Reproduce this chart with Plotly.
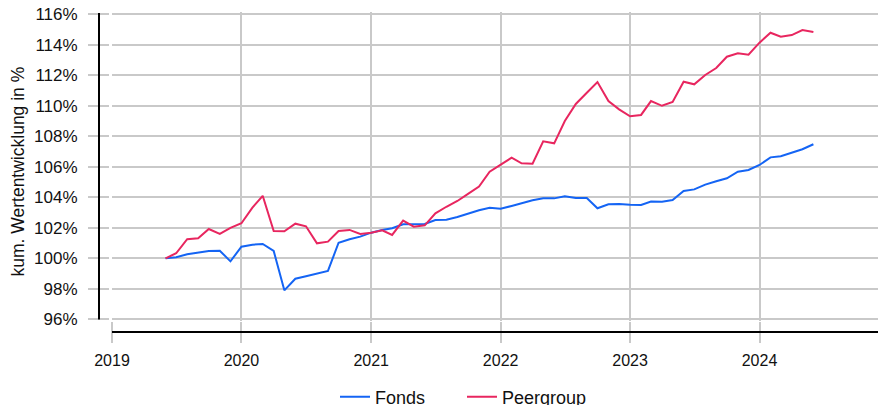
import pandas as pd
import plotly.graph_objects as go

# page has an 8px body margin: figure occupies screen (8..886, 8..405)
OFF = 8
W, H = 886 - OFF, 405 - OFF

dates = pd.date_range("2019-06-01", "2024-06-01", freq="MS")

fonds = [100.0, 100.07, 100.26, 100.37, 100.48, 100.5, 99.8, 100.76, 100.89, 100.94,
         100.48, 97.9, 98.66, 98.82, 98.99, 99.17, 101.02, 101.25, 101.42, 101.68,
         101.86, 101.97, 102.23, 102.25, 102.25, 102.51, 102.53, 102.71, 102.95, 103.15,
         103.32, 103.25, 103.43, 103.61, 103.8, 103.93, 103.93, 104.07, 103.95, 103.95,
         103.28, 103.54, 103.56, 103.51, 103.5, 103.72, 103.71, 103.82, 104.41, 104.52,
         104.83, 105.05, 105.25, 105.68, 105.79, 106.12, 106.62, 106.69, 106.92, 107.15,
         107.48]

peergroup = [100.0, 100.33, 101.25, 101.31, 101.92, 101.6, 102.0, 102.3, 103.32, 104.1,
             101.79, 101.77, 102.27, 102.1, 100.98, 101.09, 101.79, 101.86, 101.6, 101.68,
             101.83, 101.53, 102.47, 102.07, 102.16, 102.95, 103.38, 103.76, 104.22, 104.7,
             105.68, 106.16, 106.6, 106.23, 106.2, 107.67, 107.54, 109.0, 110.12, 110.86,
             111.56, 110.31, 109.77, 109.31, 109.4, 110.31, 110.0, 110.25, 111.58, 111.41,
             112.02, 112.48, 113.22, 113.44, 113.35, 114.14, 114.79, 114.53, 114.64, 114.97,
             114.84]

year_ticks = ["2019-01-01", "2020-01-01", "2021-01-01", "2022-01-01", "2023-01-01", "2024-01-01"]
year_labels = ["2019", "2020", "2021", "2022", "2023", "2024"]
y_ticks = list(range(96, 117, 2))

series_names = ["Fonds", "Peergroup"]
series_colors = ["#1464F4", "#E8265F"]

GRID = "#C9C9C9"
FONT = "Liberation Sans, Arial, sans-serif"


def sx(px):
    return (px - OFF) / W


def sy(py):
    return (H - (py - OFF)) / H


# geometry (screen pixels of the reference)
x_left_px = 112.0
px_per_day = 647.5 / 1826.0
x_start = pd.Timestamp("2019-01-01")
x_end = x_start + pd.Timedelta(days=(886 - x_left_px) / px_per_day)
x_dom = [sx(x_left_px), 1.0]
pad = 0.12  # small range padding so the edge grid lines (96%, 116%) are kept
px_per_pct = 305.0 / 20.0
y_dom = [sy(319.3 + pad * px_per_pct), sy(14.3 - pad * px_per_pct)]

fig = go.Figure()
for name, vals, col in zip(series_names, [fonds, peergroup], series_colors):
    fig.add_trace(go.Scatter(x=dates, y=vals, mode="lines", name=name,
                             line=dict(color=col, width=2)))
# empty trace so that the label axis is drawn
fig.add_trace(go.Scatter(x=[], y=[], xaxis="x2", showlegend=False, hoverinfo="skip"))

fig.update_layout(
    width=W, height=H,
    margin=dict(l=0, r=0, t=0, b=0, autoexpand=False),
    plot_bgcolor="white", paper_bgcolor="white",
    font=dict(family=FONT, size=16, color="#111111"),
    showlegend=True,
    legend=dict(orientation="h", x=sx(335), xanchor="left", y=sy(397), yanchor="middle",
                font=dict(size=18), bgcolor="rgba(0,0,0,0)",
                entrywidth=82, entrywidthmode="pixels"),
    xaxis=dict(domain=x_dom, range=[x_start, x_end], type="date",
               tickvals=year_ticks[1:], showticklabels=False, ticks="",
               showgrid=True, gridcolor=GRID, gridwidth=2, zeroline=False, showline=False,
               anchor="y"),
    xaxis2=dict(domain=x_dom, range=[x_start, x_end], type="date", overlaying="x",
                anchor="free", position=sy(321),
                tickvals=year_ticks, ticktext=year_labels, ticks="outside", ticklen=21,
                tickwidth=2, tickcolor=GRID, showgrid=False, zeroline=False, showline=False,
                tickfont=dict(size=16, family=FONT), ticklabelstandoff=4,
                ticklabeloverflow="allow"),
    yaxis=dict(domain=y_dom, range=[96 - pad, 116 + pad], tickvals=y_ticks,
               ticktext=[f"{v}%" for v in y_ticks],
               anchor="free", position=sx(109),
               ticks="outside", ticklen=21, tickwidth=2, tickcolor=GRID,
               showgrid=True, gridcolor=GRID, gridwidth=2, zeroline=False, showline=False,
               tickfont=dict(size=17, family=FONT), ticklabelstandoff=7,
               ticklabeloverflow="allow"),
    annotations=[dict(text="kum. Wertentwicklung in %", textangle=-90, xref="paper", yref="paper",
                      x=sx(17.5), y=sy(172), xanchor="center", yanchor="middle",
                      showarrow=False, font=dict(size=17.5, family=FONT))],
    shapes=[
        dict(type="line", xref="paper", yref="paper", x0=sx(99), x1=sx(99),
             y0=sy(319.5), y1=sy(13), line=dict(color="black", width=2), layer="above"),
        dict(type="line", xref="paper", yref="paper", x0=sx(112), x1=1.0,
             y0=sy(332), y1=sy(332), line=dict(color="black", width=2), layer="above"),
    ],
)

fig.write_html("out.html")
